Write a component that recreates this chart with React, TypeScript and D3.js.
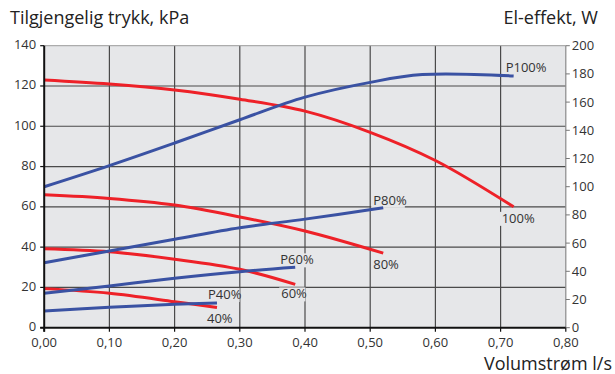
import React from "react";
import * as d3 from "d3";

const xTicks = [0, 0.1, 0.2, 0.3, 0.4, 0.5, 0.6, 0.7, 0.8];
const yLeftTicks = [0, 20, 40, 60, 80, 100, 120, 140];
const yRightTicks = [0, 20, 40, 60, 80, 100, 120, 140, 160, 180, 200];

const flowP100 = [0, 0.1, 0.2, 0.3, 0.4, 0.5, 0.6, 0.72];
const pressure100 = [123, 121, 118, 113.4, 107.5, 97, 83, 60];
const flowW100 = [0, 0.1, 0.2, 0.3, 0.4, 0.5, 0.58, 0.72];
const power100 = [100, 115, 131, 147.5, 163.5, 174, 179.5, 178.5];

const flow80 = [0, 0.1, 0.2, 0.3, 0.4, 0.52];
const pressure80 = [66, 64.2, 60.9, 55, 48, 37];
const power80 = [46, 54.4, 62.7, 70.9, 77, 85];

const flow60 = [0, 0.1, 0.2, 0.3, 0.385];
const pressure60 = [39.2, 37.7, 34, 29, 21.5];
const power60 = [24.4, 29.6, 35, 39.7, 42.8];

const flow40 = [0, 0.1, 0.2, 0.265];
const pressure40 = [19.4, 17.1, 12.9, 10];
const power40 = [11.9, 14.5, 16.6, 17.5];

const RED = "#ee2128";
const BLUE = "#3a52a3";
const BG = "#e6e7e9";
const FONT = "'Open Sans', 'Noto Sans', sans-serif";

const L = 44.2, R = 565.8, T = 45.7, B = 327.7;

export default function App() {
  const x = d3.scaleLinear().domain([0, 0.8]).range([L, R]);
  const yL = d3.scaleLinear().domain([0, 140]).range([B, T]);
  const yR = d3.scaleLinear().domain([0, 200]).range([B, T]);

  const lineL = d3
    .line<[number, number]>()
    .x((d) => x(d[0]))
    .y((d) => yL(d[1]))
    .curve(d3.curveCatmullRom.alpha(0.5));
  const lineR = d3
    .line<[number, number]>()
    .x((d) => x(d[0]))
    .y((d) => yR(d[1]))
    .curve(d3.curveCatmullRom.alpha(0.5));

  const zip = (a: number[], b: number[]) => a.map((v, i) => [v, b[i]] as [number, number]);

  const pressures = [
    zip(flowP100, pressure100),
    zip(flow80, pressure80),
    zip(flow60, pressure60),
    zip(flow40, pressure40),
  ];
  const powers = [
    zip(flowW100, power100),
    zip(flow80, power80),
    zip(flow60, power60),
    zip(flow40, power40),
  ];

  const labels: { t: string; px: number; py: number }[] = [];
  const pEnd = (arr: [number, number][]) => arr[arr.length - 1];
  const addLabel = (t: string, pt: [number, number], isPower: boolean, dx: number, dy: number) => {
    const px = x(pt[0]) + dx;
    const py = (isPower ? yR(pt[1]) : yL(pt[1])) + dy;
    labels.push({ t, px, py });
  };
  addLabel("P100%", pEnd(powers[0]), true, -8, -4);
  addLabel("100%", pEnd(pressures[0]), false, -12, 16);
  addLabel("P80%", pEnd(powers[1]), true, -10, -3);
  addLabel("80%", pEnd(pressures[1]), false, -10, 16);
  addLabel("P60%", pEnd(powers[2]), true, -15, -3);
  addLabel("60%", pEnd(pressures[2]), false, -14, 14);
  addLabel("P40%", pEnd(powers[3]), true, -9, -4);
  addLabel("40%", pEnd(pressures[3]), false, -10, 15);

  const labelW = (t: string) => t.length * 7.4;

  return (
    <svg
      width={615}
      height={374}
      style={{ position: "absolute", left: 0, top: 0, background: "#fff" }}
      fontFamily={FONT}
    >
      <rect x={L} y={T} width={R - L} height={B - T} fill={BG} />
      {xTicks.slice(1, -1).map((t) => (
        <line key={"gx" + t} x1={x(t)} x2={x(t)} y1={T} y2={B} stroke="#4a4a4a" strokeWidth={1.2} />
      ))}
      {yLeftTicks.slice(1, -1).map((t) => (
        <line key={"gy" + t} x1={L} x2={R} y1={yL(t)} y2={yL(t)} stroke="#4a4a4a" strokeWidth={1.2} />
      ))}
      <line x1={L} x2={R} y1={T} y2={T} stroke="#9a9a9a" strokeWidth={1} />
      <line x1={R} x2={R} y1={T} y2={B} stroke="#8a8a8a" strokeWidth={1.2} />
      {labels.map((l) => (
        <rect key={"bg" + l.t} x={l.px - 2} y={l.py - 11} width={labelW(l.t) + 4} height={14} fill={BG} />
      ))}
      {pressures.map((d, i) => (
        <path key={"p" + i} d={lineL(d) || ""} fill="none" stroke={RED} strokeWidth={3} />
      ))}
      {powers.map((d, i) => (
        <path key={"w" + i} d={lineR(d) || ""} fill="none" stroke={BLUE} strokeWidth={3} />
      ))}
      {labels.map((l) => (
        <text key={"lt" + l.t} x={l.px} y={l.py} fontSize={13} fill="#333">
          {l.t}
        </text>
      ))}
      <line x1={L} x2={L} y1={T} y2={B + 4} stroke="#111" strokeWidth={2} />
      <line x1={L - 4} x2={R} y1={B} y2={B} stroke="#111" strokeWidth={2} />
      {yLeftTicks.map((t) => (
        <g key={"yl" + t}>
          <line x1={L - 4} x2={L} y1={yL(t)} y2={yL(t)} stroke="#111" strokeWidth={1.2} />
          <text x={L - 8} y={yL(t) + 3.5} textAnchor="end" fontSize={13} fill="#333">
            {t}
          </text>
        </g>
      ))}
      {yRightTicks.map((t) => (
        <g key={"yr" + t}>
          <line x1={R} x2={R + 4} y1={yR(t)} y2={yR(t)} stroke="#777" strokeWidth={1} />
          <text x={R + 6} y={yR(t) + 4.5} textAnchor="start" fontSize={13} fill="#333">
            {t}
          </text>
        </g>
      ))}
      {xTicks.map((t) => (
        <g key={"xt" + t}>
          <line x1={x(t)} x2={x(t)} y1={B} y2={B + 4} stroke="#111" strokeWidth={1.2} />
          <text x={x(t)} y={B + 19} textAnchor="middle" fontSize={13} fill="#333">
            {d3.format(".2f")(t).replace(".", ",")}
          </text>
        </g>
      ))}
      <text x={10} y={24} fontSize={18} fill="#222">
        Tilgjengelig trykk, kPa
      </text>
      <text x={598} y={24} textAnchor="end" fontSize={18} fill="#222">
        El-effekt, W
      </text>
      <text x={612} y={370} textAnchor="end" fontSize={18} fill="#222">
        Volumstrøm l/s
      </text>
    </svg>
  );
}
